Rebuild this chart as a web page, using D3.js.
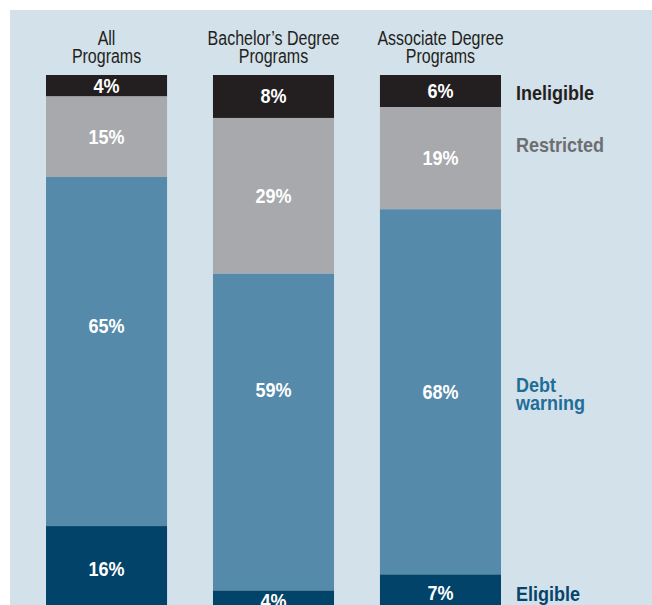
<!DOCTYPE html>
<html>
<head>
<meta charset="utf-8">
<script src="https://cdn.jsdelivr.net/npm/d3@7"></script>
<style>
  html, body { margin: 0; padding: 0; background: #ffffff; }
  svg { display: block; }
  text { font-family: "Liberation Sans", Arial, sans-serif; }
</style>
</head>
<body>
<div id="chart"></div>
<script>
// 数据：三类项目，四种状态的百分比
const programs = ['All Programs', 'Bachelor’s Degree Programs', 'Associate Degree Programs'];
const programLines = [['All', 'Programs'], ['Bachelor’s Degree', 'Programs'], ['Associate Degree', 'Programs']];
const statuses = ['Ineligible', 'Restricted', 'Debt warning', 'Eligible'];
const ineligible = [4, 8, 6];
const restricted = [15, 29, 19];
const debtWarning = [65, 59, 68];
const eligible = [16, 4, 7];

// 样式
const fills = { 'Ineligible': '#231f20', 'Restricted': '#a7a9ac', 'Debt warning': '#558aab', 'Eligible': '#02436a' };
const legendColors = { 'Ineligible': '#231f20', 'Restricted': '#6d6e71', 'Debt warning': '#1f6e98', 'Eligible': '#05456b' };
const legendNudge = { 'Ineligible': 2, 'Restricted': -13, 'Debt warning': 2, 'Eligible': 1 };
// 个别标签在原图中并不居中
const labelNudge = { 'All Programs|Debt warning': -26, 'Bachelor’s Degree Programs|Debt warning': -42 };
// 没有窄体字，用横向压缩模拟 condensed 字形
const squeezeBold = 0.9, squeezeReg = 0.82;

const width = 652, height = 605;

const rows = programs.map((p, i) => ({
  program: p,
  'Ineligible': ineligible[i],
  'Restricted': restricted[i],
  'Debt warning': debtWarning[i],
  'Eligible': eligible[i]
}));

const series = d3.stack().keys(statuses)(rows);

const svg = d3.select('#chart').append('svg')
  .attr('width', width)
  .attr('height', height)
  .attr('viewBox', `0 0 ${width} ${height}`);

// 浅蓝背景面板
svg.append('rect')
  .attr('x', 10).attr('y', 10)
  .attr('width', width - 10).attr('height', height - 10)
  .attr('fill', '#d3e1ea');

const x = d3.scaleBand().domain(programs).range([46, 501]).paddingInner(0.275);
const y = d3.scaleLinear().domain([0, 100]).range([75, 612]);

const at = (cx, cy, s) => `translate(${cx},${cy}) scale(${s},1)`;

// 柱子
const layers = svg.append('g').selectAll('g')
  .data(series)
  .join('g')
  .attr('fill', d => fills[d.key]);

layers.selectAll('rect')
  .data(d => d.map(v => ({ key: d.key, v })))
  .join('rect')
  .attr('x', d => x(d.v.data.program))
  .attr('y', d => y(d.v[0]))
  .attr('width', x.bandwidth())
  .attr('height', d => y(d.v[1]) - y(d.v[0]));

// 柱内百分比
layers.selectAll('text')
  .data(d => d.map(v => ({ key: d.key, v })))
  .join('text')
  .attr('transform', d => at(
    x(d.v.data.program) + x.bandwidth() / 2,
    (y(d.v[0]) + y(d.v[1])) / 2 + (labelNudge[d.v.data.program + '|' + d.key] || 0) + 7,
    squeezeBold))
  .attr('text-anchor', 'middle')
  .attr('fill', '#ffffff')
  .attr('font-weight', 'bold')
  .attr('font-size', 20)
  .text(d => (d.v[1] - d.v[0]) + '%');

// 列标题
const heads = svg.append('g').selectAll('text')
  .data(programs)
  .join('text')
  .attr('transform', d => at(x(d) + x.bandwidth() / 2, 45, squeezeReg))
  .attr('text-anchor', 'middle')
  .attr('fill', '#231f20')
  .attr('font-size', 19.5);

heads.selectAll('tspan')
  .data((d, i) => programLines[i])
  .join('tspan')
  .attr('x', 0)
  .attr('dy', (d, i) => i === 0 ? 0 : 18)
  .text(d => d);

// 右侧图例，对齐最后一根柱子的各段
const last = programs[programs.length - 1];
const legendX = x(last) + x.bandwidth() + 15;

const legend = svg.append('g').selectAll('text')
  .data(series)
  .join('text')
  .attr('transform', s => {
    const seg = s.find(v => v.data.program === last);
    const lines = s.key === 'Debt warning' ? 2 : 1;
    const cy = (y(seg[0]) + y(seg[1])) / 2 + legendNudge[s.key] + 7 - (lines - 1) * 9;
    return at(legendX, cy, squeezeBold);
  })
  .attr('fill', s => legendColors[s.key])
  .attr('font-weight', 'bold')
  .attr('font-size', 20);

legend.selectAll('tspan')
  .data(s => s.key === 'Debt warning' ? ['Debt', 'warning'] : [s.key])
  .join('tspan')
  .attr('x', 0)
  .attr('dy', (d, i) => i === 0 ? 0 : 18)
  .text(d => d);
</script>
</body>
</html>
